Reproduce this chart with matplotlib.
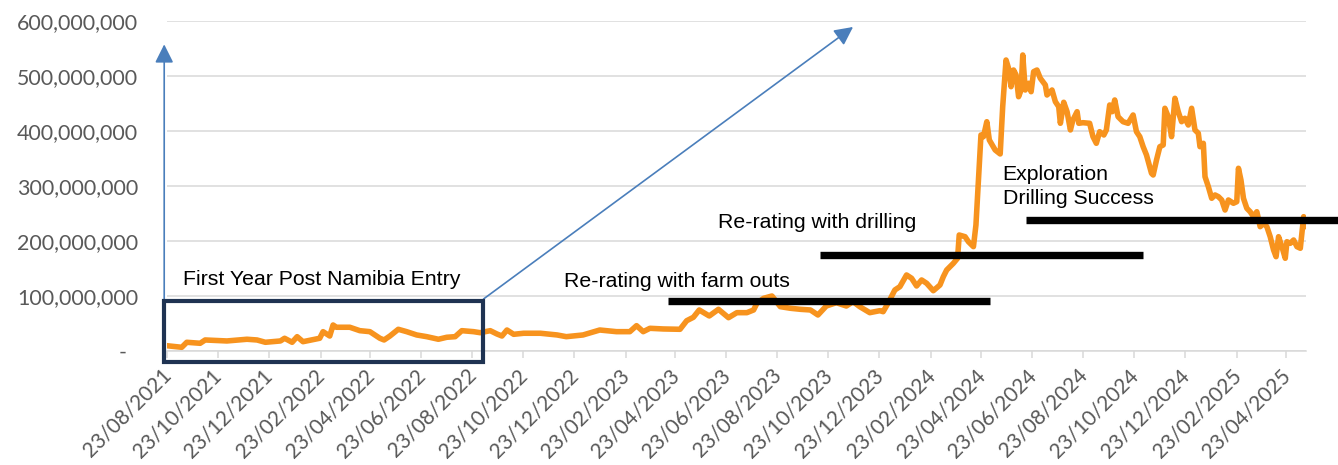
import matplotlib
matplotlib.use("Agg")
import matplotlib.pyplot as plt
import matplotlib.dates as mdates
import matplotlib.transforms as mtransforms
from matplotlib.patches import Rectangle
from matplotlib.ticker import FuncFormatter
import numpy as np
import pandas as pd

# ---------------- data ----------------
dates = [
    '2021-08-23', '2021-09-10', '2021-09-16', '2021-10-02', '2021-10-08', '2021-11-03', '2021-11-27', '2021-12-09', '2021-12-19', '2022-01-06',
    '2022-01-11', '2022-01-20', '2022-01-26', '2022-02-02', '2022-02-22', '2022-02-26', '2022-03-06', '2022-03-10', '2022-03-14', '2022-03-30',
    '2022-04-11', '2022-04-23', '2022-05-05', '2022-05-10', '2022-05-17', '2022-05-27', '2022-06-06', '2022-06-18', '2022-06-30', '2022-07-14',
    '2022-07-24', '2022-08-03', '2022-08-11', '2022-08-25', '2022-09-02', '2022-09-14', '2022-09-22', '2022-09-28', '2022-10-04', '2022-10-12',
    '2022-10-24', '2022-11-13', '2022-12-03', '2022-12-14', '2023-01-03', '2023-01-23', '2023-02-12', '2023-02-28', '2023-03-08', '2023-03-16',
    '2023-03-24', '2023-04-09', '2023-04-29', '2023-05-07', '2023-05-15', '2023-05-22', '2023-06-03', '2023-06-14', '2023-06-26', '2023-07-06',
    '2023-07-18', '2023-07-26', '2023-07-30', '2023-08-07', '2023-08-17', '2023-08-27', '2023-09-08', '2023-09-20', '2023-10-02', '2023-10-11',
    '2023-10-21', '2023-11-02', '2023-11-14', '2023-11-22', '2023-11-30', '2023-12-12', '2023-12-24', '2023-12-28', '2024-01-03', '2024-01-11',
    '2024-01-17', '2024-01-25', '2024-01-31', '2024-02-06', '2024-02-12', '2024-02-18', '2024-02-26', '2024-03-05', '2024-03-09', '2024-03-13',
    '2024-03-21', '2024-03-26', '2024-03-28', '2024-04-04', '2024-04-08', '2024-04-14', '2024-04-17', '2024-04-20', '2024-04-23', '2024-04-26',
    '2024-04-30', '2024-05-03', '2024-05-10', '2024-05-16', '2024-05-19', '2024-05-23', '2024-05-26', '2024-05-29', '2024-06-01', '2024-06-04',
    '2024-06-07', '2024-06-10', '2024-06-12', '2024-06-15', '2024-06-19', '2024-06-22', '2024-06-25', '2024-06-29', '2024-07-03', '2024-07-09',
    '2024-07-11', '2024-07-17', '2024-07-21', '2024-07-25', '2024-07-27', '2024-07-31', '2024-08-04', '2024-08-08', '2024-08-11', '2024-08-16',
    '2024-08-18', '2024-08-23', '2024-08-31', '2024-09-04', '2024-09-08', '2024-09-12', '2024-09-17', '2024-09-20', '2024-09-24', '2024-09-27',
    '2024-09-30', '2024-10-04', '2024-10-10', '2024-10-16', '2024-10-22', '2024-10-26', '2024-10-30', '2024-11-03', '2024-11-07', '2024-11-13',
    '2024-11-15', '2024-11-19', '2024-11-23', '2024-11-27', '2024-11-29', '2024-12-03', '2024-12-07', '2024-12-11', '2024-12-15', '2024-12-19',
    '2024-12-23', '2024-12-27', '2024-12-31', '2025-01-04', '2025-01-08', '2025-01-10', '2025-01-14', '2025-01-16', '2025-01-20', '2025-01-24',
    '2025-01-28', '2025-02-01', '2025-02-05', '2025-02-09', '2025-02-13', '2025-02-19', '2025-02-23', '2025-02-25', '2025-02-28', '2025-03-03',
    '2025-03-07', '2025-03-11', '2025-03-15', '2025-03-19', '2025-03-23', '2025-03-27', '2025-03-31', '2025-04-04', '2025-04-08', '2025-04-11',
    '2025-04-14', '2025-04-18', '2025-04-22', '2025-04-24', '2025-04-28', '2025-05-02', '2025-05-06', '2025-05-10', '2025-05-14', '2025-05-17',
]

market_cap_millions = [
    9.6, 6.7, 15.8, 14.0, 20.0, 18.2, 21.3, 20.0, 15.8, 18.2,
    23.1, 15.8, 26.0, 16.9, 23.1, 35.1, 27.2, 47.2, 43.1, 43.1,
    36.9, 35.1, 23.1, 20.0, 27.2, 39.4, 35.1, 29.1, 26.0, 21.3,
    24.9, 26.0, 36.9, 35.1, 33.2, 36.9, 30.9, 27.2, 38.1, 30.3,
    32.2, 32.2, 29.1, 26.0, 29.1, 38.1, 35.1, 35.1, 46.0, 35.1,
    41.2, 40.0, 39.4, 55.0, 61.2, 74.5, 63.6, 75.7, 60.5, 69.6,
    69.6, 74.5, 86.6, 95.7, 99.9, 80.5, 77.6, 75.7, 74.5, 65.4,
    81.7, 87.7, 81.7, 89.6, 80.5, 69.6, 73.2, 71.4, 87.2, 110.8,
    116.8, 138.1, 132.1, 118.1, 129.0, 123.0, 109.5, 119.9, 135.0, 147.1,
    159.3, 168.4, 210.7, 207.6, 198.5, 189.5, 228.9, 310.6, 392.4, 389.3,
    416.5, 383.3, 365.1, 357.9, 443.8, 528.6, 513.5, 480.1, 510.4, 501.4,
    461.9, 474.1, 537.7, 474.1, 486.3, 471.0, 507.4, 510.4, 495.4, 483.2,
    465.0, 474.1, 452.9, 443.8, 413.6, 451.8, 434.7, 401.5, 419.6, 434.7,
    413.6, 414.7, 413.6, 389.3, 377.3, 398.4, 392.4, 401.5, 446.9, 434.7,
    456.0, 425.6, 416.5, 413.6, 428.7, 398.4, 389.3, 371.1, 356.0, 322.8,
    319.7, 347.0, 371.1, 374.2, 440.9, 425.6, 389.3, 459.0, 434.7, 416.5,
    422.7, 410.5, 440.9, 401.5, 395.5, 371.1, 377.3, 316.6, 298.5, 277.4,
    283.4, 280.3, 274.3, 256.1, 274.3, 268.3, 271.2, 331.9, 310.6, 277.4,
    259.2, 253.0, 244.0, 253.0, 225.8, 232.0, 225.8, 207.6, 183.5, 171.3,
    207.6, 189.5, 168.4, 198.5, 195.6, 201.6, 189.5, 186.6, 244.0, 225.8,
]

tick_dates = [
    '2021-08-23', '2021-10-23', '2021-12-23', '2022-02-23', '2022-04-23', '2022-06-23',
    '2022-08-23', '2022-10-23', '2022-12-23', '2023-02-23', '2023-04-23', '2023-06-23',
    '2023-08-23', '2023-10-23', '2023-12-23', '2024-02-23', '2024-04-23', '2024-06-23',
    '2024-08-23', '2024-10-23', '2024-12-23', '2025-02-23', '2025-04-23',
]

y_ticks_millions = [0, 100, 200, 300, 400, 500, 600]

# phase bars: (label, start, end, level in millions)
phase_labels = ['Re-rating with farm outs', 'Re-rating with drilling', 'Exploration\nDrilling Success']
phase_starts = ['2023-04-15', '2023-10-14', '2024-06-16']
phase_ends = ['2024-05-04', '2024-11-03', '2025-06-24']
phase_levels_millions = [91.7, 174.4, 238.3]

# ---------------- styling ----------------
ORANGE = '#F7931E'
GRID = '#D9D9D9'
TICK_TXT = '#595959'
ARROW = '#4A7EBB'
BOX = '#1F3352'
TICK_FONT = ['Lato', 'DejaVu Sans']
ANN_FONT = ['Liberation Sans', 'DejaVu Sans']

fig = plt.figure(figsize=(13.38, 4.65), dpi=100)
ax = fig.add_axes([0.1246, 0.2452, 0.8516, 0.7103])

x = pd.to_datetime(dates)
y = np.array(market_cap_millions) * 1e6
ax.plot(x, y, color=ORANGE, lw=4.0, solid_joinstyle='round', solid_capstyle='round', zorder=3)

ax.set_xlim(pd.Timestamp(dates[0]), pd.Timestamp(dates[-1]))
ax.set_ylim(0, 600e6)

ax.set_yticks(np.array(y_ticks_millions) * 1e6)
ax.yaxis.set_major_formatter(FuncFormatter(lambda v, p: '-  ' if v == 0 else f'{v:,.0f}'))
ax.grid(axis='y', color=GRID, lw=1.1)
ax.set_axisbelow(True)
for s in ['top', 'right', 'left']:
    ax.spines[s].set_visible(False)
ax.spines['bottom'].set_color(GRID)
ax.spines['bottom'].set_linewidth(1.1)

ax.tick_params(axis='y', length=0, pad=20.5, labelsize=15.4, labelcolor=TICK_TXT)
ax.tick_params(axis='x', length=5, width=1.1, color=GRID, pad=3, labelsize=15,
               labelcolor=TICK_TXT, direction='out')
tx = pd.to_datetime(tick_dates)
ax.set_xticks(tx)
ax.set_xticklabels([d.strftime('%d/%m/%Y') for d in tx], rotation=45, ha='right',
                   va='center', rotation_mode='anchor')
shift = mtransforms.ScaledTranslation(1 / 100, -10 / 100, fig.dpi_scale_trans)
for lab in ax.get_xticklabels():
    lab.set_fontfamily(TICK_FONT)
    lab.set_transform(lab.get_transform() + shift)
for lab in ax.get_yticklabels():
    lab.set_fontfamily(TICK_FONT)


def D(s):
    return mdates.date2num(pd.Timestamp(s))


# box around first year
b0, b1 = D('2021-08-19 12:00'), D('2022-09-05')
ax.add_patch(Rectangle((b0, -20e6), b1 - b0, 111.2e6, fill=False, ec=BOX, lw=3,
                       joinstyle='miter', clip_on=False, zorder=6))

# arrows
arrow_kw = dict(arrowstyle='-|>,head_length=0.4,head_width=0.2', color=ARROW, lw=1.2,
                mutation_scale=28, shrinkA=0, shrinkB=0)
ax.annotate('', xy=(D('2021-08-20'), 557e6), xytext=(D('2021-08-20'), 94.5e6),
            arrowprops=arrow_kw, annotation_clip=False, zorder=5)
ax.annotate('', xy=(D('2023-11-22'), 588.6e6), xytext=(D('2022-09-06'), 94.5e6),
            arrowprops=arrow_kw, annotation_clip=False, zorder=5)

# phase bars
for s, e, lv in zip(phase_starts, phase_ends, phase_levels_millions):
    ax.plot([D(s), D(e)], [lv * 1e6, lv * 1e6], color='black', lw=5.3,
            solid_capstyle='butt', clip_on=False, zorder=6)

# annotation texts
txt_kw = dict(fontsize=15.3, family=ANN_FONT, color='black', va='baseline', ha='left', zorder=7)
ax.text(D('2021-09-11'), 119e6, 'First Year Post Namibia Entry', **txt_kw)
ax.text(D('2022-12-11'), 116.8e6, phase_labels[0], **txt_kw)
ax.text(D('2023-06-14'), 222.9e6, phase_labels[1], **txt_kw)
expl_lines = phase_labels[2].split('\n')
ax.text(D('2024-05-19'), 311.4e6, expl_lines[0], **txt_kw)
ax.text(D('2024-05-19'), 267e6, expl_lines[1], **txt_kw)

fig.savefig('out.png', dpi=100)
